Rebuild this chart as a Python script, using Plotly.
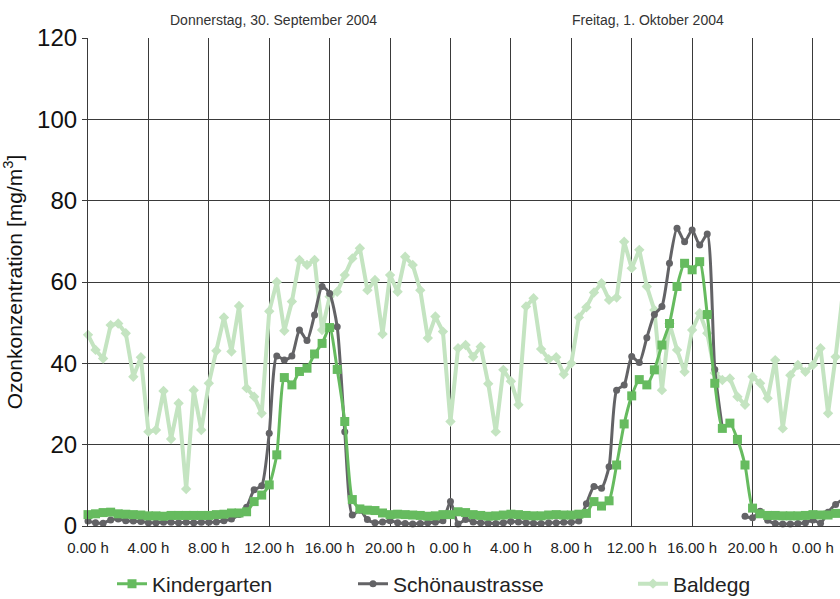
import plotly.graph_objects as go

# half-hourly time stamps in hours from Thu 30.09.2004 00:00
hours = [i * 0.5 for i in range(101)]

kindergarten = [
    2.8, 3.0, 3.3, 3.4, 3.0, 2.9, 2.8, 2.7, 2.5, 2.5,
    2.4, 2.6, 2.6, 2.6, 2.6, 2.6, 2.6, 2.8, 2.9, 3.2,
    3.2, 3.5, 6.0, 7.6, 10.1, 17.5, 36.5, 34.7, 38.0, 38.8,
    42.3, 44.9, 48.8, 38.5, 25.7, 6.5, 4.2, 3.9, 3.8, 3.2,
    2.8, 2.9, 2.8, 2.7, 2.6, 2.4, 2.5, 2.8, 2.8, 3.5,
    3.3, 2.8, 2.6, 2.4, 2.5, 2.7, 2.9, 2.8, 2.6, 2.5,
    2.5, 2.7, 2.8, 2.7, 2.7, 2.9, 3.1, 6.0, 4.9, 6.2,
    15.0, 25.1, 32.0, 36.0, 34.7, 38.4, 44.5, 49.8, 58.9, 64.6,
    63.0, 65.0, 52.0, 35.1, 24.0, 25.3, 21.3, 15.0, 4.4, 3.0,
    2.6, 2.6, 2.5, 2.5, 2.5, 2.6, 2.8, 2.7, 2.7, 3.1,
    3.9,
]

schoenaustrasse = [
    1.2, 0.8, 0.7, 1.5, 1.7, 1.3, 1.2, 1.1, 0.8, 0.8,
    0.9, 0.9, 0.8, 0.9, 0.8, 0.9, 0.9, 1.0, 1.3, 1.7,
    2.8, 4.6, 8.9, 9.9, 22.8, 41.8, 40.8, 41.8, 48.2, 45.6,
    51.9, 58.9, 57.2, 49.0, 23.2, 2.7, 3.9, 1.6, 0.8, 1.0,
    1.3, 0.8, 0.6, 0.5, 0.6, 0.8, 0.9, 1.3, 6.0, 0.5,
    1.6, 1.0, 0.8, 0.7, 0.6, 0.8, 1.1, 1.0, 0.8, 0.7,
    0.6, 0.8, 0.8, 0.9, 0.9, 1.2, 5.5, 9.7, 9.3, 14.6,
    33.4, 34.7, 41.7, 40.2, 46.3, 52.0, 54.0, 64.6, 73.2, 69.9,
    72.8, 69.1, 71.8, 38.5, 24.0, None, None, 2.4, 2.0, 3.6,
    1.4, 0.6, 0.5, 0.5, 0.6, 0.8, 1.5, 0.7, 3.4, 5.3,
    6.6,
]

baldegg = [
    47.0, 43.3, 41.2, 49.4, 49.8, 47.4, 36.7, 41.5, 23.2, 23.6,
    33.2, 21.4, 30.2, 9.1, 33.4, 23.6, 35.1, 43.1, 51.3, 42.9,
    54.1, 33.9, 31.8, 27.7, 52.8, 60.0, 48.0, 55.2, 65.4, 64.2,
    65.4, 48.2, 56.4, 57.6, 61.7, 65.8, 68.3, 58.0, 60.5, 47.2,
    61.7, 57.6, 66.2, 64.2, 58.0, 46.2, 51.5, 47.8, 25.7, 43.7,
    44.5, 41.6, 44.1, 35.0, 23.2, 38.4, 35.6, 29.8, 54.0, 56.0,
    43.5, 41.0, 41.5, 37.3, 40.0, 51.3, 53.8, 57.4, 59.7, 55.6,
    56.2, 69.9, 63.4, 67.9, 58.9, 53.1, 33.4, 49.8, 43.3, 37.9,
    48.2, 52.3, 47.4, 37.6, 35.9, 36.3, 31.8, 29.8, 36.7, 35.1,
    31.4, 40.8, 24.0, 37.1, 39.6, 37.9, 39.6, 43.7, 27.7, 41.6,
    58.0,
]

tick_hours = [0, 4, 8, 12, 16, 20, 24, 28, 32, 36, 40, 44, 48]
tick_labels = ["0.00 h", "4.00 h", "8.00 h", "12.00 h", "16.00 h", "20.00 h",
               "0.00 h", "4.00 h", "8.00 h", "12.00 h", "16.00 h", "20.00 h", "0.00 h"]
y_ticks = [0, 20, 40, 60, 80, 100, 120]

day_labels = ["Donnerstag, 30. September 2004", "Freitag, 1. Oktober 2004"]
day_label_pos = [12.3, 37.1]

FONT = "Liberation Sans"
C_KG = "#66BB5F"
C_SA = "#636366"
C_BA = "#C4E4C1"

fig = go.Figure()
fig.add_trace(go.Scatter(
    x=hours, y=baldegg, name="Baldegg", mode="lines+markers",
    line=dict(color=C_BA, width=4),
    marker=dict(symbol="diamond", size=8, color=C_BA),
    legend="legend3", cliponaxis=False,
))
fig.add_trace(go.Scatter(
    x=hours, y=schoenaustrasse, name="Schönaustrasse", mode="lines+markers",
    line=dict(color=C_SA, width=3, shape="spline", smoothing=0.6),
    marker=dict(symbol="circle", size=7, color=C_SA),
    connectgaps=False, legend="legend2", cliponaxis=False,
))
fig.add_trace(go.Scatter(
    x=hours, y=kindergarten, name="Kindergarten", mode="lines+markers",
    line=dict(color=C_KG, width=3, shape="spline", smoothing=0.6),
    marker=dict(symbol="square", size=9, color=C_KG),
    legend="legend", cliponaxis=False,
))

for txt, xpos in zip(day_labels, day_label_pos):
    fig.add_annotation(x=xpos, y=1.0, xref="x", yref="paper", text=txt,
                       showarrow=False, yanchor="bottom", yshift=8,
                       font=dict(family=FONT, size=14, color="#333333"))

grid_col = "#3a3a3a"
leg_common = dict(orientation="h", yanchor="middle", xanchor="left",
                  xref="container", yref="container",
                  font=dict(family=FONT, size=21, color="#222222"),
                  bgcolor="rgba(0,0,0,0)", itemwidth=30)
leg_y = 1 - 584 / 599

fig.update_layout(
    width=840, height=599,
    margin=dict(l=88, r=0, t=38, b=73),
    paper_bgcolor="white", plot_bgcolor="white",
    font=dict(family=FONT, color="#222222"),
    showlegend=True,
    legend=dict(x=112 / 840, y=leg_y, **leg_common),
    legend2=dict(x=353 / 840, y=leg_y, **leg_common),
    legend3=dict(x=633 / 840, y=leg_y, **leg_common),
    xaxis=dict(
        range=[0, 49.79], tickmode="array", tickvals=tick_hours, ticktext=tick_labels,
        showgrid=True, gridcolor=grid_col, gridwidth=1.2,
        showline=True, linecolor=grid_col, linewidth=1.2,
        zeroline=False, ticks="outside", ticklen=8, tickcolor="rgba(0,0,0,0)",
        tickfont=dict(family=FONT, size=15, color="#222222"),
    ),
    yaxis=dict(
        range=[0, 120], tickmode="array", tickvals=y_ticks,
        showgrid=True, gridcolor=grid_col, gridwidth=1.2,
        showline=True, linecolor=grid_col, linewidth=1.2,
        zeroline=False, ticks="outside", ticklen=5, tickcolor=grid_col,
        tickfont=dict(family=FONT, size=24, color="#111111"),
        title=dict(text="Ozonkonzentration [mg/m<sup>3</sup>]", standoff=10,
                   font=dict(family=FONT, size=21, color="#111111")),
    ),
)

fig.write_html("out.html")
